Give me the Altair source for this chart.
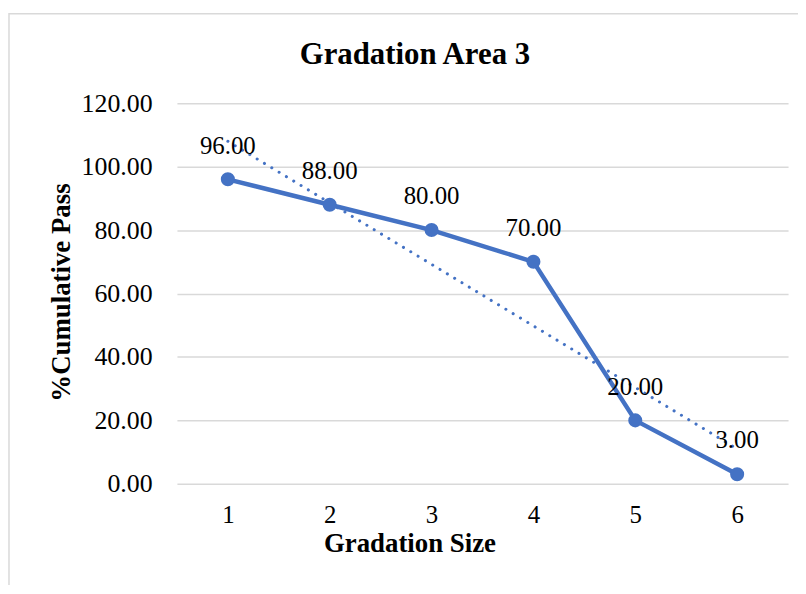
import altair as alt
import pandas as pd

sizes = [1, 2, 3, 4, 5, 6]
passing = [96.0, 88.0, 80.0, 70.0, 20.0, 3.0]
y_ticks = [0, 20, 40, 60, 80, 100, 120]

df = pd.DataFrame({"size": sizes, "pass": passing})

BLUE = "#4472C4"
FONT = "Liberation Serif"

base = alt.Chart(df)

x_enc = alt.X(
    "size:Q",
    scale=alt.Scale(domain=[0.5, 6.5], nice=False, zero=False),
    axis=alt.Axis(
        values=sizes, format="d", grid=False, ticks=False, tickSize=0, domain=False,
        labelFontSize=25, labelFont=FONT, labelColor="#000000",
        labelPadding=31, labelBaseline="middle",
        title="Gradation Size", titleFont=FONT, titleFontSize=27,
        titleFontWeight="bold", titleColor="#000000",
        titleX=234, titleY=60, titleBaseline="middle", titleAlign="center",
    ),
)
y_enc = alt.Y(
    "pass:Q",
    scale=alt.Scale(domain=[0, 120], nice=False),
    axis=alt.Axis(
        values=y_ticks, format=".2f", grid=True, gridColor="#d9d9d9",
        gridWidth=1.5, ticks=False, tickSize=0, domain=False,
        labelFontSize=26, labelFont=FONT, labelColor="#000000",
        labelPadding=25,
        title="%Cumulative Pass", titleFont=FONT, titleFontSize=27,
        titleFontWeight="bold", titleColor="#000000",
        titleX=-116, titleY=190, titleBaseline="middle", titleAlign="center",
        titleAngle=270,
    ),
)

border = alt.Chart(alt.Data(values=[{"a": 1}])).mark_rect(
    fill=None, fillOpacity=0, stroke="#d9d9d9", strokeWidth=1.5, clip=False
).encode(
    x=alt.value(-169), x2=alt.value(700), y=alt.value(-90), y2=alt.value(600)
)

line = base.mark_line(color=BLUE, strokeWidth=4.5).encode(x=x_enc, y=y_enc)

trend = base.transform_regression("size", "pass", method="linear").mark_line(
    color=BLUE, strokeWidth=3, strokeDash=[0.1, 8.5], strokeCap="round"
).encode(x="size:Q", y="pass:Q")

points = base.mark_circle(color=BLUE, size=200, opacity=1).encode(x="size:Q", y="pass:Q")

labels = base.mark_text(
    font=FONT, fontSize=25, color="#000000", dy=-34, baseline="middle"
).encode(x="size:Q", y="pass:Q", text=alt.Text("pass:Q", format=".2f"))

chart = alt.layer(border, line, trend, points, labels).properties(
    width=615,
    height=383,
    autosize=alt.AutoSizeParams(type="none"),
    padding={"left": 170, "top": 94, "right": 10, "bottom": 100},
    title=alt.TitleParams(
        text="Gradation Area 3", font=FONT, fontSize=31, fontWeight="bold",
        color="#000000", anchor="middle", frame="group", dx=-68,
        baseline="middle", offset=-73,
    ),
).configure_view(stroke=None).configure_text(font=FONT)

chart.save("out.html", embed_options={"renderer": "svg", "actions": False})
